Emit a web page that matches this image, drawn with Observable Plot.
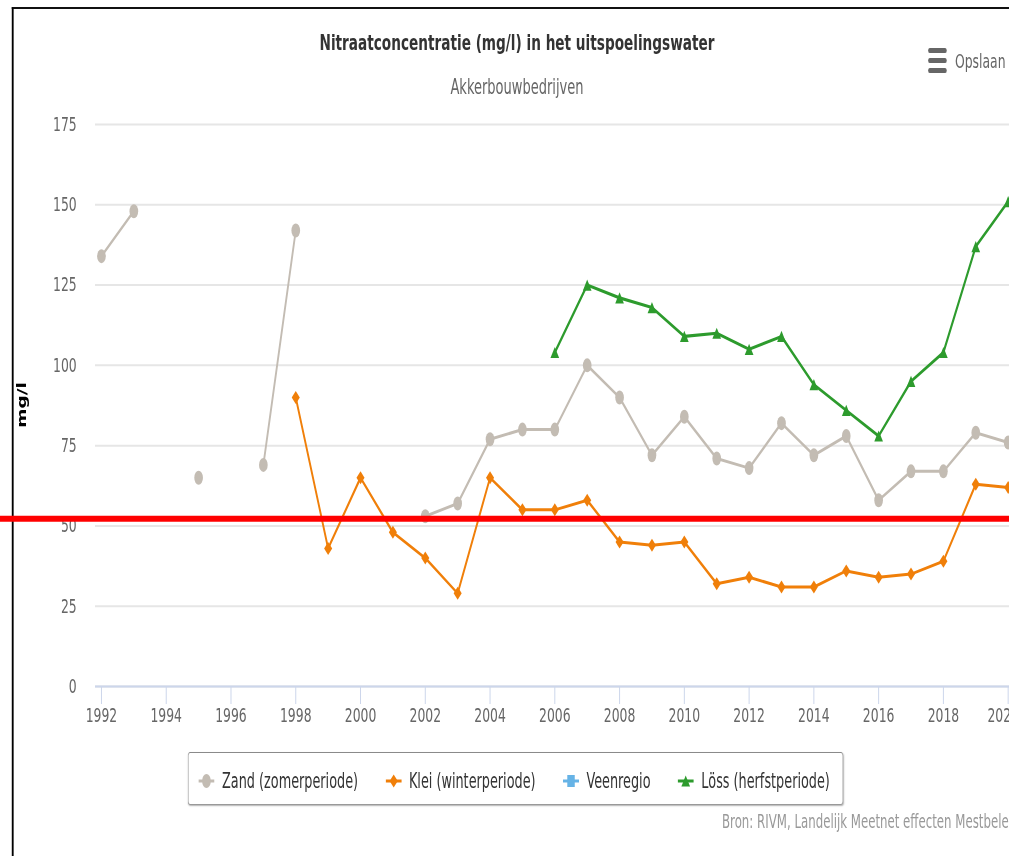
<!DOCTYPE html>
<html>
<head>
<meta charset="utf-8">
<script src="https://cdn.jsdelivr.net/npm/d3@7"></script>
<script src="https://cdn.jsdelivr.net/npm/@observablehq/plot@0.6"></script>
<style>
  html, body { margin: 0; padding: 0; background: #fff; overflow: hidden; }
  #frame { position: relative; width: 1009px; height: 856px; overflow: hidden; background: #fff; font-family: "DejaVu Sans", sans-serif; }
  #inner { position: absolute; left: 0; top: 0; width: 1628px; height: 856px; transform: scaleX(0.62); transform-origin: 0 0; }
  #border { position: absolute; left: 19.4px; top: 7.3px; width: 3000px; height: 2000px; border-left: 3.2px solid #000; border-top: 2px solid #111; z-index: 0; }
  #chart { position: absolute; left: 0; top: 0; z-index: 2; }
  #chart svg { max-width: none !important; }
  .title { position: absolute; left: 0; width: 1667.8px; text-align: center; white-space: nowrap; line-height: 1; z-index: 3; }
  #t1 { top: 32.4px; font-size: 22px; font-weight: bold; color: #333; }
  #t2 { top: 76.5px; font-size: 21px; color: #666; }
  #menu { position: absolute; left: 1496.5px; top: 48px; width: 30.5px; z-index: 3; }
  #menu div { height: 5px; background: #666; border-radius: 2.5px; margin-bottom: 5px; }
  #opslaan { position: absolute; left: 1540.3px; top: 50.8px; font-size: 20px; line-height: 1; color: #666; white-space: nowrap; z-index: 3; }
  #ylabel { position: absolute; left: 36.3px; top: 405px; font-size: 18.5px; font-weight: bold; color: #000; line-height: 1; white-space: nowrap; transform: translate(-50%, -50%) rotate(-90deg); z-index: 3; }
  #legend { position: absolute; left: 303.2px; top: 752px; width: 1056.5px; height: 53px; box-sizing: border-box; border: 1px solid #999; border-top-color: #8a8a8a; border-radius: 4px; box-shadow: 1px 1px 2px rgba(0,0,0,0.3); display: flex; align-items: center; padding-left: 16px; padding-top: 5px; gap: 44px; background: #fff; z-index: 3; }
  .item { display: flex; align-items: center; gap: 12px; font-size: 20.7px; color: #333; white-space: nowrap; }
  .item svg { display: block; }
  #caption { position: absolute; left: 1164.5px; top: 812px; font-size: 19px; line-height: 1; color: #999; white-space: nowrap; z-index: 3; }
</style>
</head>
<body>
<div id="frame">
  <div id="inner">
    <div id="border"></div>
    <div id="chart"></div>
    <div class="title" id="t1"></div>
    <div class="title" id="t2"></div>
    <div id="menu"><div></div><div></div><div></div></div>
    <div id="opslaan"></div>
    <div id="ylabel"></div>
    <div id="legend"></div>
    <div id="caption"></div>
  </div>
</div>
<script>
// ---------- DATA ----------
const titleText = "Nitraatconcentratie (mg/l) in het uitspoelingswater";
const subtitleText = "Akkerbouwbedrijven";
const menuText = "Opslaan";
const yAxisTitle = "mg/l";
const captionText = "Bron: RIVM, Landelijk Meetnet effecten Mestbeleid";

const years = [1992, 1993, 1994, 1995, 1996, 1997, 1998, 1999, 2000, 2001, 2002, 2003, 2004, 2005, 2006,
               2007, 2008, 2009, 2010, 2011, 2012, 2013, 2014, 2015, 2016, 2017, 2018, 2019, 2020];

const zand = [134, 148, null, 65, null, 69, 142, null, null, null, 53, 57, 77, 80, 80,
              100, 90, 72, 84, 71, 68, 82, 72, 78, 58, 67, 67, 79, 76];
const klei = [null, null, null, null, null, null, 90, 43, 65, 48, 40, 29, 65, 55, 55,
              58, 45, 44, 45, 32, 34, 31, 31, 36, 34, 35, 39, 63, 62];
const veen = years.map(() => null);
const loss = [null, null, null, null, null, null, null, null, null, null, null, null, null, null, 104,
              125, 121, 118, 109, 110, 105, 109, 94, 86, 78, 95, 104, 137, 151];

const seriesNames = ["Zand (zomerperiode)", "Klei (winterperiode)", "Veenregio", "Löss (herfstperiode)"];
const seriesColors = ["#c3bcb3", "#f07f09", "#66b3e6", "#2d9b2d"];
const seriesSymbols = ["circle", "diamond", "square", "triangle"];

const yTicks = [0, 25, 50, 75, 100, 125, 150, 175];
const xTicks = [1992, 1994, 1996, 1998, 2000, 2002, 2004, 2006, 2008, 2010, 2012, 2014, 2016, 2018, 2020];
const lastXTick = [2020];

// red annotation line (hand-drawn in the original, slightly above 50)
const thresholdValue = 52.2;
const thresholdSpan = [1988.5, 2022];

// ---------- BUILD ----------
document.getElementById("t1").textContent = titleText;
document.getElementById("t2").textContent = subtitleText;
document.getElementById("opslaan").textContent = menuText;
document.getElementById("ylabel").textContent = yAxisTitle;
document.getElementById("caption").textContent = captionText;

const toRows = vals => years.map((year, i) => ({year, value: vals[i]}));
const zandRows = toRows(zand);
const kleiRows = toRows(klei);
const veenRows = toRows(veen);
const lossRows = toRows(loss);
const thresholdRows = [{value: thresholdValue, from: thresholdSpan[0], to: thresholdSpan[1]}];

const diamondSym = {draw(ctx, size) { const r = Math.sqrt(size / Math.PI); ctx.moveTo(0, -r); ctx.lineTo(r, 0); ctx.lineTo(0, r); ctx.lineTo(-r, 0); ctx.closePath(); }};
const triangleSym = {draw(ctx, size) { const r = Math.sqrt(size / Math.PI); const h = r * 0.8; ctx.moveTo(0, -h); ctx.lineTo(r, h); ctx.lineTo(-r, h); ctx.closePath(); }};

const S = 0.62;
const marginLeft = 95 / S;
const chart = Plot.plot({
  width: 1700,
  height: 760,
  marginLeft,
  marginRight: 43.1,
  marginTop: 124,
  marginBottom: 74,
  style: {fontFamily: "DejaVu Sans", fontSize: "20px", background: "transparent", maxWidth: "none", overflow: "visible"},
  x: {domain: [1991.81, 2020.6]},
  y: {domain: [0, 175]},
  marks: [
    Plot.gridY({ticks: yTicks, stroke: "#e6e6e6", strokeOpacity: 1, strokeWidth: 2}),
    Plot.axisY({ticks: yTicks, tickSize: 0, tickPadding: 30, fill: "#666", label: null}),
    Plot.axisX({ticks: xTicks, tickSize: 18, tickPadding: 3, stroke: "#ccd6eb", strokeWidth: 1.6, fill: "#666",
                tickFormat: d => (lastXTick.includes(d) ? "" : String(d)), label: null}),
    Plot.axisX(lastXTick, {tickSize: 0, tickPadding: 21, dx: -8, fill: "#666", tickFormat: d => String(d), label: null}),
    Plot.ruleY([0], {stroke: "#ccd6eb", strokeWidth: 2}),
    Plot.line(zandRows, {x: "year", y: "value", stroke: seriesColors[0], strokeWidth: 3}),
    Plot.dot(zandRows, {x: "year", y: "value", r: 7, fill: seriesColors[0], stroke: "none"}),
    Plot.line(kleiRows, {x: "year", y: "value", stroke: seriesColors[1], strokeWidth: 3}),
    Plot.dot(kleiRows, {x: "year", y: "value", r: 6.5, symbol: diamondSym, fill: seriesColors[1], stroke: "none"}),
    Plot.line(veenRows, {x: "year", y: "value", stroke: seriesColors[2], strokeWidth: 3}),
    Plot.line(lossRows, {x: "year", y: "value", stroke: seriesColors[3], strokeWidth: 3.2}),
    Plot.dot(lossRows, {x: "year", y: "value", r: 7, symbol: triangleSym, fill: seriesColors[3], stroke: "none"}),
    Plot.ruleY(thresholdRows, {y: "value", x1: "from", x2: "to", stroke: "#ff0000", strokeWidth: 6})
  ]
});
document.getElementById("chart").appendChild(chart);

// legend
const legend = document.getElementById("legend");
seriesNames.forEach((name, i) => {
  const c = seriesColors[i];
  let marker;
  if (seriesSymbols[i] === "circle") marker = `<circle cx="13" cy="10" r="7" fill="${c}"/>`;
  else if (seriesSymbols[i] === "diamond") marker = `<path d="M13,3.5L19.5,10L13,16.5L6.5,10Z" fill="${c}"/>`;
  else if (seriesSymbols[i] === "square") marker = `<rect x="7" y="4" width="12" height="12" fill="${c}"/>`;
  else marker = `<path d="M13,4.5L20,15.5L6,15.5Z" fill="${c}"/>`;
  const item = document.createElement("div");
  item.className = "item";
  item.innerHTML = `<svg width="26" height="20"><line x1="0" x2="26" y1="10" y2="10" stroke="${c}" stroke-width="3"/>${marker}</svg><span></span>`;
  item.querySelector("span").textContent = name;
  legend.appendChild(item);
});
</script>
</body>
</html>
